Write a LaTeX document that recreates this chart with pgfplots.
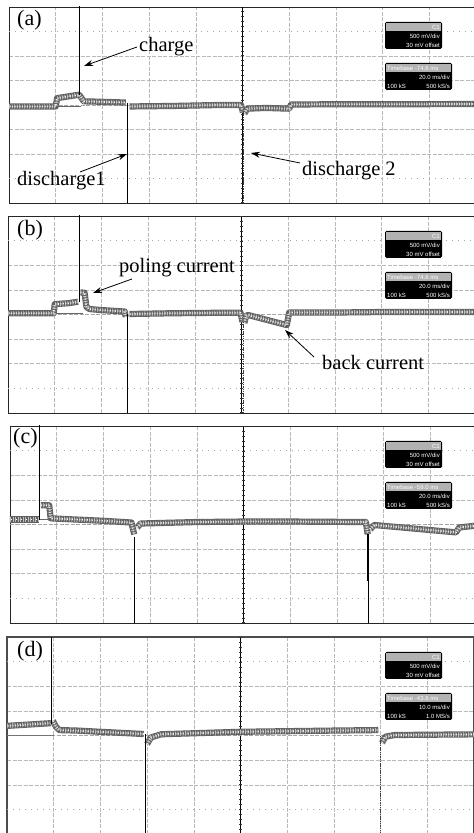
\documentclass[border=0pt]{standalone}
\usepackage{pgfplots}
\pgfplotsset{compat=1.18}
\usetikzlibrary{arrows.meta}
\usepackage{fontspec}
\setmainfont{Liberation Serif}
\newfontfamily\boxfont{Liberation Sans}

\pgfplotsset{
  osc/.style={scale only axis, width=467pt, anchor=south west,
    xmin=0, xmax=10, ymin=-4, ymax=4,
    xtick={1,2,3,4,6,7,8,9}, ytick={-2,-1,1,2},
    extra y ticks={-3,3}, extra y tick labels={},
    extra y tick style={major grid style={gray!70, line width=0.5pt, dash pattern=on 1pt off 5pt}},
    xticklabels={}, yticklabels={}, major tick length=0pt, grid=major,
    major grid style={gray!55, line width=0.5pt, dash pattern=on 4pt off 1.5pt},
    axis line style={black!85, line width=0.9pt}},
  trace/.style={no marks, black!62, line width=6.2pt, line join=round,
    postaction={draw=white, line width=1.8pt, dash pattern=on 1.2pt off 1.3pt},
    postaction={draw=black!25, line width=4.6pt, dash pattern=on 0.6pt off 1.9pt}},
  spike/.style={no marks, black, line width=1pt},
  fine/.style={no marks, black!75, line width=0.7pt, dash pattern=on 1.5pt off 0.8pt},
}

% centre cross of the scope screen, with small ticks
\newcommand\centrelines{%
  \draw[black, line width=0.6pt] (axis cs:5,-4) -- (axis cs:5,4);
  \draw[black!80, line width=2.4pt, dash pattern=on 0.5pt off 4.4pt] (axis cs:5,-4) -- (axis cs:5,4);
  \draw[gray!70, line width=0.5pt, dash pattern=on 4pt off 1.5pt] (axis cs:0,0) -- (axis cs:10,0);
}

% read-out boxes; #1 panel top, #2 timebase, #3 ms/div, #4 sample rate
\newcommand\readout[4]{%
  \begin{scope}[shift={(0,#1)}, every node/.style={white, inner sep=0pt, font=\boxfont\fontsize{6}{6}\selectfont}]
    \fill[black, rounded corners=1.5pt] (385,15) rectangle (442,42);
    \fill[gray!60] (386,16) rectangle (441,24);
    \node[anchor=east] at (440,20) {C1};
    \node[anchor=east] at (440,29) {500 mV/div};
    \node[anchor=east] at (440,38) {30 mV offset};
    \fill[black, rounded corners=1.5pt] (385,56) rectangle (452,83);
    \fill[gray!60] (386,57) rectangle (451,65);
    \node[anchor=west] at (387,61) {Timebase #2};
    \node[anchor=east] at (450,70) {#3 ms/div};
    \node[anchor=west] at (387,79) {100 kS};
    \node[anchor=east] at (450,79) {#4};
  \end{scope}}

\begin{document}
\begin{tikzpicture}
\useasboundingbox (0,0) rectangle (474pt,833pt);
\clip (0,0) rectangle (474pt,833pt);

% (a)
\begin{axis}[osc, at={(9pt,630pt)}, height=196pt]
\centrelines
\addplot[black!60, line width=0.5pt] coordinates {(1.0,-0.04)(1.55,-0.04)};
\addplot[trace] coordinates {(-0.1,-0.06)(1.0,-0.06)(1.03,0.28)(1.3,0.36)(1.5,0.42)(1.53,0.35)(1.6,0.15)(2.0,0.13)(2.5,0.1)};
\addplot[trace] coordinates {(2.58,-0.06)(3.5,-0.04)(4.5,0.0)(4.97,0.0)(5.01,-0.3)};
\addplot[trace] coordinates {(5.04,-0.35)(5.1,-0.15)(5.5,-0.12)(6.0,-0.15)(6.04,0.02)(7,0.03)(8,0.03)(10.2,0.04)};
\addplot[spike] coordinates {(1.52,0.4)(1.52,5)};
\addplot[spike] coordinates {(2.53,0.1)(2.53,-5)};
\addplot[fine] coordinates {(5.02,-0.3)(5.02,-5)};
\end{axis}

% (b)
\begin{axis}[osc, at={(8pt,420pt)}, height=197pt]
\centrelines
\addplot[black!60, line width=0.5pt] coordinates {(1.0,0.05)(1.6,0.05)};
\addplot[trace] coordinates {(-0.1,0.05)(0.98,0.05)(1.0,0.42)(1.3,0.46)(1.5,0.52)};
\addplot[trace] coordinates {(1.55,0.9)(1.64,0.88)(1.68,0.3)(1.75,0.22)(2.0,0.18)(2.5,0.12)(2.52,-0.1)};
\addplot[trace] coordinates {(2.6,0.02)(3.5,0.05)(4.5,0.07)(4.98,0.07)(5.02,-0.3)};
\addplot[trace] coordinates {(5.06,-0.35)(5.1,-0.05)(5.14,-0.02)(5.97,-0.43)(6.02,0.08)(7,0.08)(8,0.1)(10.2,0.1)};
\addplot[spike] coordinates {(1.53,0.5)(1.53,5)};
\addplot[spike] coordinates {(2.55,0.0)(2.55,-5)};
\addplot[fine] coordinates {(5.03,-0.3)(5.03,-5)};
\end{axis}

% (c)
\begin{axis}[osc, at={(10pt,210pt)}, height=197pt]
\centrelines
\addplot[black!60, line width=0.5pt] coordinates {(0.64,0.2)(0.87,0.2)};
\addplot[trace] coordinates {(-0.1,0.2)(0.62,0.2)};
\addplot[trace] coordinates {(0.66,0.78)(0.84,0.78)(0.87,0.25)(1.2,0.22)(2.0,0.15)(2.6,0.08)(2.66,-0.4)};
\addplot[trace] coordinates {(2.72,-0.12)(2.8,0.04)(4,0.1)(5,0.12)(6,0.12)(7.62,0.1)(7.66,-0.4)};
\addplot[trace] coordinates {(7.71,-0.2)(7.8,-0.02)(9.55,-0.32)(9.62,-0.12)(10.2,0.0)};
\addplot[spike] coordinates {(0.64,0.2)(0.64,5)};
\addplot[spike, line width=1.4pt] coordinates {(2.67,-0.5)(2.67,-5)};
\addplot[spike, line width=1.5pt] coordinates {(7.67,-0.4)(7.67,-2.3)};
\addplot[spike, line width=0.7pt] coordinates {(7.67,-2.3)(7.67,-5)};
\end{axis}

% (d)
\begin{axis}[osc, at={(7pt,-1pt)}, height=197pt, axis line style={black!70, line width=1.2pt}]
\centrelines
\addplot[no marks, black!55, line width=1.5pt] coordinates {(0,0)(1.0,0)};
\addplot[trace] coordinates {(-0.1,0.38)(0.94,0.5)};
\addplot[trace] coordinates {(0.98,0.6)(1.05,0.35)(1.12,0.22)(1.5,0.2)(2.0,0.15)(2.93,0.06)};
\addplot[trace] coordinates {(3.0,-0.35)(3.08,-0.08)(3.3,0.05)(5,0.15)(7.0,0.2)(7.95,0.22)};
\addplot[trace] coordinates {(8.03,-0.3)(8.1,-0.05)(8.3,0.02)(10.2,0.05)};
\addplot[spike, line width=1.2pt] coordinates {(0.96,0.45)(0.96,5)};
\addplot[spike] coordinates {(2.97,0.05)(2.97,-5)};
\addplot[fine] coordinates {(8.0,0.0)(8.0,-5)};
\end{axis}

% labels, arrows and read-outs in image pixels (y downwards)
\begin{scope}[x=1pt, y=-1pt, yshift=833pt]
\readout{7}{-74.6 ms}{20.0}{500 kS/s}
\readout{216}{-74.6 ms}{20.0}{500 kS/s}
\readout{426}{-59.0 ms}{20.0}{500 kS/s}
\readout{637}{-43.6 ms}{10.0}{1.0 MS/s}

\tikzset{lab/.style={anchor=base west, inner sep=0pt, font=\fontsize{22}{22}\selectfont},
  ann/.style={anchor=base west, inner sep=0pt, font=\fontsize{20.5}{20.5}\selectfont},
  arr/.style={-{Stealth[length=9pt, width=6pt]}, line width=0.8pt}}
\node[lab] at (17,26) {(a)};
\node[lab] at (17,236) {(b)};
\fill[white] (11,427) rectangle (39,449);
\node[lab] at (13,444) {(c)};
\node[lab] at (17,657) {(d)};

\node[ann] at (139,52) {charge};
\draw[arr] (137,47) -- (84,66);
\node[ann] at (17,186) {discharge1};
\draw[arr] (80,172) -- (127,154);
\node[ann] at (302,176) {discharge 2};
\draw[arr] (300,163) -- (251,153);
\node[ann] at (119,273) {poling current};
\draw[arr] (132,279) -- (93,293);
\node[ann] at (322,370) {back current};
\draw[arr] (314,357) -- (285,330);
\end{scope}
\end{tikzpicture}
\end{document}
